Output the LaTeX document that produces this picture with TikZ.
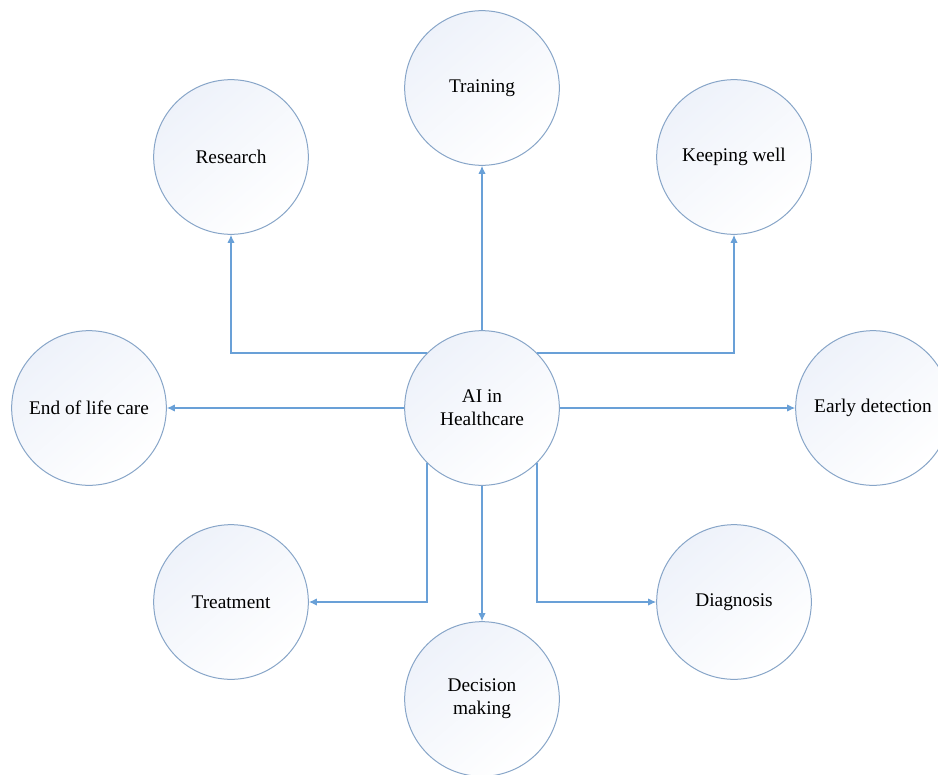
\documentclass[tikz,border=0pt]{standalone}
\usepackage{fontspec}
\setmainfont{Liberation Serif}
\usepackage{tikz}
\usetikzlibrary{arrows.meta}
\definecolor{circ_edge}{RGB}{135,165,200}
\definecolor{circ_fill}{RGB}{238,242,250}
\definecolor{link_blue}{RGB}{105,160,215}

\begin{document}
\begin{tikzpicture}[x=0.75pt,y=-0.75pt,->,>={Latex[length=6pt,width=5.5pt]}]
    \tikzstyle{topic}=[draw=circ_edge, line width=0.75pt, circle, minimum size=116pt, inner sep=0pt,
      top color=circ_fill, bottom color=white, shading angle=40, align=center,
      font=\fontsize{14.5}{17.5}\selectfont, text=black]
    \tikzstyle{link}=[draw=link_blue, line width=0.9pt]

    \useasboundingbox (0,0) rectangle (938,774);

    \node[topic] (ai)    at (482,408) {AI in\\Healthcare};
    \node[topic] (train) at (482,88)  {Training};
    \node[topic] (res)   at (231,157) {Research};
    \node[topic] (keep)  at (734,157) {Keeping well};
    \node[topic] (end)   at (89,408)  {End of life care};
    \node[topic] (early) at (873,408) {Early detection};
    \node[topic] (treat) at (231,602) {Treatment};
    \node[topic] (diag)  at (734,602) {Diagnosis};
    \node[topic] (dec)   at (482,699) {Decision\\making};

    \draw[link] (ai.north) -- (train.south);
    \draw[link] (ai.135) -| (res.south);
    \draw[link] (ai.45) -| (keep.south);
    \draw[link] (ai.west) -- (end.east);
    \draw[link] (ai.east) -- (early.west);
    \draw[link] (ai.225) |- (treat.east);
    \draw[link] (ai.-45) |- (diag.west);
    \draw[link] (ai.south) -- (dec.north);
\end{tikzpicture}
\end{document}
